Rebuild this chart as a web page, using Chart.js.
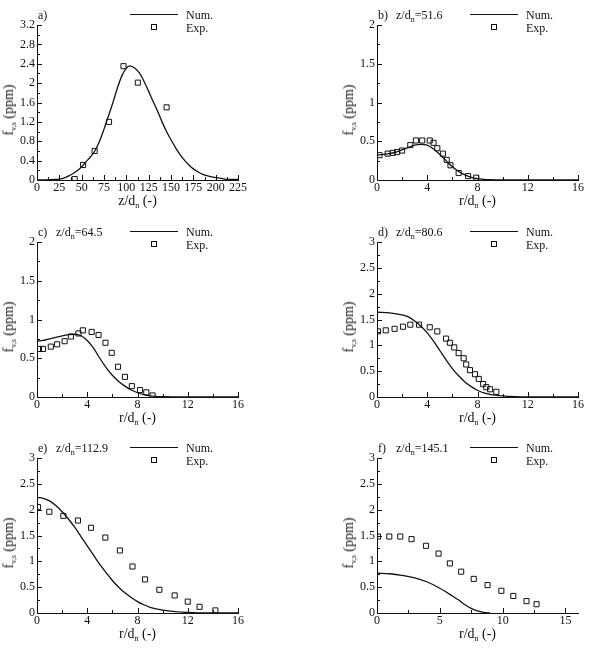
<!DOCTYPE html>
<html lang="en">
<head>
  <meta charset="UTF-8">
  <title>Soot volume fraction profiles</title>
  <script src="https://cdn.jsdelivr.net/npm/chart.js"></script>
  <style>
    body {
      margin: 0;
      background: #fff;
      width: 597px;
      height: 660px;
      position: relative;
      overflow: hidden;
      font-family: "Liberation Serif", "DejaVu Serif", serif;
      color: #111;
    }
    .panel { position: absolute; }
    .txt { position: absolute; white-space: nowrap; line-height: 1; }
    .txt sub { font-size: 8px; vertical-align: -3px; line-height: 0; }
    .lbl { font-size: 12px; transform: translateY(-50%); }
    .xtitle { font-size: 14px; transform: translate(-50%, -50%); }
    .ytitle { font-size: 14px; transform: translate(-50%, -50%) rotate(-90deg); }
    .legline { position: absolute; height: 0; border-top: 1.3px solid #111; width: 48px; }
    .legbox { position: absolute; width: 4px; height: 4px; border: 1px solid #111; transform: translate(-50%, -50%); }
  </style>
</head>
<body>

<script>
  // a) centreline, z/dn
  const aNumX = [0, 10, 20, 25, 30, 35, 40, 45, 50, 55, 60, 65, 70, 75, 80, 85, 90, 95, 100, 103, 105, 110, 115, 120, 125, 130, 135, 140, 145, 150, 155, 160, 165, 170, 175, 180, 185, 190, 200, 210, 225];
  const aNumY = [0, 0, 0.01, 0.02, 0.04, 0.08, 0.13, 0.19, 0.27, 0.38, 0.48, 0.61, 0.8, 1.05, 1.32, 1.6, 1.9, 2.15, 2.31, 2.35, 2.35, 2.3, 2.2, 2.03, 1.83, 1.62, 1.42, 1.2, 1.0, 0.83, 0.67, 0.53, 0.41, 0.31, 0.23, 0.17, 0.12, 0.09, 0.05, 0.02, 0.01];
  const aExpX = [42.2, 51.6, 64.5, 80.6, 96.8, 112.9, 145.1];
  const aExpY = [0.02, 0.31, 0.6, 1.2, 2.35, 2.01, 1.5];

  // b) z/dn = 51.6
  const bNumX = [0, 0.5, 1, 1.5, 2, 2.5, 3, 3.5, 4, 4.5, 5, 5.5, 6, 6.5, 7, 7.5, 8, 8.5, 9, 10, 12, 16];
  const bNumY = [0.32, 0.33, 0.34, 0.36, 0.39, 0.42, 0.45, 0.46, 0.45, 0.4, 0.33, 0.25, 0.17, 0.11, 0.065, 0.035, 0.017, 0.008, 0.004, 0.001, 0, 0];
  const bExpX = [0.2, 0.85, 1.25, 1.6, 2.0, 2.65, 3.1, 3.6, 4.2, 4.5, 4.8, 5.25, 5.55, 5.85, 6.5, 7.25, 7.9];
  const bExpY = [0.32, 0.34, 0.35, 0.36, 0.38, 0.45, 0.51, 0.51, 0.51, 0.48, 0.41, 0.34, 0.26, 0.19, 0.09, 0.05, 0.03];

  // c) z/dn = 64.5
  const cNumX = [0, 0.5, 1, 1.5, 2, 2.5, 3, 3.5, 4, 4.5, 5, 5.5, 6, 6.5, 7, 7.5, 8, 8.5, 9, 10, 11, 12, 16];
  const cNumY = [0.72, 0.73, 0.75, 0.77, 0.79, 0.805, 0.81, 0.79, 0.73, 0.63, 0.5, 0.38, 0.28, 0.2, 0.14, 0.09, 0.055, 0.03, 0.015, 0.004, 0.001, 0, 0];
  const cExpX = [0.16, 0.48, 1.1, 1.6, 2.2, 2.7, 3.3, 3.65, 4.35, 4.9, 5.45, 5.95, 6.45, 7.0, 7.55, 8.2, 8.7, 9.2];
  const cExpY = [0.62, 0.62, 0.65, 0.68, 0.72, 0.78, 0.82, 0.86, 0.84, 0.8, 0.7, 0.57, 0.39, 0.26, 0.14, 0.09, 0.06, 0.02];

  // d) z/dn = 80.6
  const dNumX = [0, 1, 2, 2.5, 3, 3.5, 4, 4.5, 5, 5.5, 6, 6.5, 7, 7.5, 8, 8.5, 9, 10, 11, 12, 16];
  const dNumY = [1.64, 1.63, 1.59, 1.55, 1.47, 1.37, 1.24, 1.08, 0.9, 0.72, 0.55, 0.41, 0.29, 0.2, 0.13, 0.08, 0.05, 0.02, 0.005, 0, 0];
  const dExpX = [0.08, 0.7, 1.4, 2.07, 2.65, 3.35, 4.2, 4.8, 5.5, 5.8, 6.15, 6.5, 6.9, 7.1, 7.4, 7.8, 8.1, 8.45, 8.7, 9.0, 9.5];
  const dExpY = [1.27, 1.29, 1.32, 1.36, 1.4, 1.4, 1.35, 1.27, 1.13, 1.05, 0.96, 0.85, 0.75, 0.63, 0.52, 0.44, 0.35, 0.25, 0.19, 0.15, 0.1];

  // e) z/dn = 112.9
  const eNumX = [0, 0.5, 1, 1.5, 2, 2.5, 3, 3.5, 4, 4.5, 5, 5.5, 6, 6.5, 7, 7.5, 8, 8.5, 9, 9.5, 10, 11, 12, 13, 14, 16];
  const eNumY = [2.24, 2.22, 2.17, 2.08, 1.96, 1.82, 1.66, 1.48, 1.3, 1.12, 0.94, 0.78, 0.63, 0.5, 0.39, 0.3, 0.22, 0.16, 0.11, 0.08, 0.055, 0.025, 0.01, 0.003, 0, 0];
  const eExpX = [0.08, 0.98, 2.1, 3.26, 4.3, 5.44, 6.6, 7.6, 8.6, 9.74, 10.96, 12.0, 12.94, 14.2];
  const eExpY = [2.05, 1.96, 1.88, 1.79, 1.65, 1.46, 1.21, 0.9, 0.65, 0.45, 0.34, 0.22, 0.12, 0.05];

  // f) z/dn = 145.1
  const fNumX = [0, 1, 2, 3, 4, 5, 6, 6.5, 7, 7.5, 8, 8.5, 9];
  const fNumY = [0.77, 0.76, 0.73, 0.68, 0.6, 0.48, 0.33, 0.25, 0.16, 0.09, 0.04, 0.012, 0];
  const fExpX = [0.08, 0.98, 1.85, 2.75, 3.9, 4.9, 5.8, 6.7, 7.7, 8.8, 9.9, 10.85, 11.9, 12.7];
  const fExpY = [1.48, 1.48, 1.48, 1.43, 1.3, 1.15, 0.96, 0.8, 0.66, 0.54, 0.43, 0.33, 0.23, 0.17];

  // tick labels
  const zTicks = [0, 25, 50, 75, 100, 125, 150, 175, 200, 225];
  const rTicks = [0, 4, 8, 12, 16];
  const rTicksF = [0, 5, 10, 15];
  const fvTicksA = [0, 0.4, 0.8, 1.2, 1.6, 2, 2.4, 2.8, 3.2];
  const fvTicks2 = [0, 0.5, 1, 1.5, 2];
  const fvTicks3 = [0, 0.5, 1, 1.5, 2, 2.5, 3];

  const panels = [
    { tag: 'a)', z: '',      numX: aNumX, numY: aNumY, expX: aExpX, expY: aExpY, xMax: 225, xTicks: zTicks,  yMax: 3.2, yTicks: fvTicksA, xVar: 'z' },
    { tag: 'b)', z: '51.6',  numX: bNumX, numY: bNumY, expX: bExpX, expY: bExpY, xMax: 16,  xTicks: rTicks,  yMax: 2,   yTicks: fvTicks2, xVar: 'r' },
    { tag: 'c)', z: '64.5',  numX: cNumX, numY: cNumY, expX: cExpX, expY: cExpY, xMax: 16,  xTicks: rTicks,  yMax: 2,   yTicks: fvTicks2, xVar: 'r' },
    { tag: 'd)', z: '80.6',  numX: dNumX, numY: dNumY, expX: dExpX, expY: dExpY, xMax: 16,  xTicks: rTicks,  yMax: 3,   yTicks: fvTicks3, xVar: 'r' },
    { tag: 'e)', z: '112.9', numX: eNumX, numY: eNumY, expX: eExpX, expY: eExpY, xMax: 16,  xTicks: rTicks,  yMax: 3,   yTicks: fvTicks3, xVar: 'r' },
    { tag: 'f)', z: '145.1', numX: fNumX, numY: fNumY, expX: fExpX, expY: fExpY, xMax: 16,  xTicks: rTicksF, yMax: 3,   yTicks: fvTicks3, xVar: 'r' }
  ];

  // plot-area corners on the page
  const colLeft = [37, 377];
  const rowTop = [25, 242, 458];
  const plotW = 201, plotH = 155;
  const padL = 40, padT = 10, padR = 12, padB = 22;

  // tecplot style ticks pointing into the plot, with a minor tick halfway
  const inwardTicks = {
    id: 'inwardTicks',
    afterDraw(chart) {
      const { ctx, chartArea: ca, scales } = chart;
      ctx.save();
      ctx.strokeStyle = '#111';
      ctx.lineWidth = 1;
      const xs = scales.x, ys = scales.y;
      const xv = xs.ticks.map(t => t.value), yv = ys.ticks.map(t => t.value);
      function marks(vals, fn) {
        vals.forEach((v, i) => {
          fn(v, 5);
          if (i < vals.length - 1) fn((v + vals[i + 1]) / 2, 3);
        });
        if (vals.length > 1) {
          const last = vals[vals.length - 1] + (vals[1] - vals[0]) / 2;
          if (last <= fn.max) fn(last, 3);
        }
      }
      const fx = (v, len) => {
        const p = Math.round(xs.getPixelForValue(v)) + 0.5;
        ctx.beginPath(); ctx.moveTo(p, ca.bottom); ctx.lineTo(p, ca.bottom - len); ctx.stroke();
      };
      fx.max = xs.max;
      const fy = (v, len) => {
        const p = Math.round(ys.getPixelForValue(v)) + 0.5;
        ctx.beginPath(); ctx.moveTo(ca.left, p); ctx.lineTo(ca.left + len, p); ctx.stroke();
      };
      fy.max = ys.max;
      marks(xv, fx);
      marks(yv, fy);
      ctx.restore();
    }
  };

  function addText(html, cls, x, y) {
    const d = document.createElement('div');
    d.className = 'txt ' + cls;
    d.style.left = x + 'px';
    d.style.top = y + 'px';
    d.innerHTML = html;
    document.body.appendChild(d);
  }

  panels.forEach((p, i) => {
    const L = colLeft[i % 2], T = rowTop[Math.floor(i / 2)];
    const box = document.createElement('div');
    box.className = 'panel';
    box.style.left = (L - padL) + 'px';
    box.style.top = (T - padT) + 'px';
    box.style.width = (plotW + padL + padR) + 'px';
    box.style.height = (plotH + padT + padB) + 'px';
    const cv = document.createElement('canvas');
    box.appendChild(cv);
    document.body.appendChild(box);

    const font = { family: '"Liberation Serif", serif', size: 12 };
    new Chart(cv, {
      type: 'scatter',
      data: {
        datasets: [
          {
            label: 'Num.',
            data: p.numX.map((x, k) => ({ x: x, y: p.numY[k] })),
            showLine: true,
            borderColor: '#111',
            borderWidth: 1.3,
            pointRadius: 0,
            cubicInterpolationMode: 'monotone'
          },
          {
            label: 'Exp.',
            data: p.expX.map((x, k) => ({ x: x, y: p.expY[k] })),
            showLine: false,
            pointStyle: 'rect',
            pointRadius: 3.6,
            borderColor: '#111',
            borderWidth: 1,
            backgroundColor: 'rgba(255,255,255,0)'
          }
        ]
      },
      options: {
        responsive: true,
        maintainAspectRatio: false,
        animation: false,
        layout: { padding: { left: 0, top: padT, right: padR, bottom: 0 } },
        plugins: { legend: { display: false }, tooltip: { enabled: false } },
        scales: {
          x: {
            type: 'linear', min: 0, max: p.xMax,
            afterBuildTicks: s => { s.ticks = p.xTicks.map(v => ({ value: v })); },
            afterFit: s => { s.height = padB; },
            grid: { display: false, drawTicks: false },
            border: { display: true, color: '#111', width: 1 },
            ticks: { color: '#111', font: font, padding: 1, maxRotation: 0, callback: v => String(v) }
          },
          y: {
            type: 'linear', min: 0, max: p.yMax,
            afterBuildTicks: s => { s.ticks = p.yTicks.map(v => ({ value: v })); },
            afterFit: s => { s.width = padL; },
            grid: { display: false, drawTicks: false },
            border: { display: true, color: '#111', width: 1 },
            ticks: { color: '#111', font: font, padding: 2, callback: v => String(v) }
          }
        }
      },
      plugins: [inwardTicks]
    });

    // panel tag and station
    const ly = T - 10;
    addText(p.tag, 'lbl', L + 1, ly);
    if (p.z) addText('z/d<sub>n</sub>=' + p.z, 'lbl', L + 19, ly);

    // legend
    const leg = document.createElement('div');
    leg.className = 'legline';
    leg.style.left = (L + 93) + 'px';
    leg.style.top = (T - 11) + 'px';
    document.body.appendChild(leg);
    addText('Num.', 'lbl', L + 149, T - 10);
    const sq = document.createElement('div');
    sq.className = 'legbox';
    sq.style.left = (L + 117) + 'px';
    sq.style.top = (T + 2) + 'px';
    document.body.appendChild(sq);
    addText('Exp.', 'lbl', L + 149, T + 3);

    // axis titles
    addText(p.xVar + '/d<sub>n</sub> (-)', 'xtitle', L + plotW / 2, T + plotH + 21);
    addText('f<sub>v,s</sub> (ppm)', 'ytitle', L - 28, T + plotH / 2 + 7);
  });
</script>
</body>
</html>
